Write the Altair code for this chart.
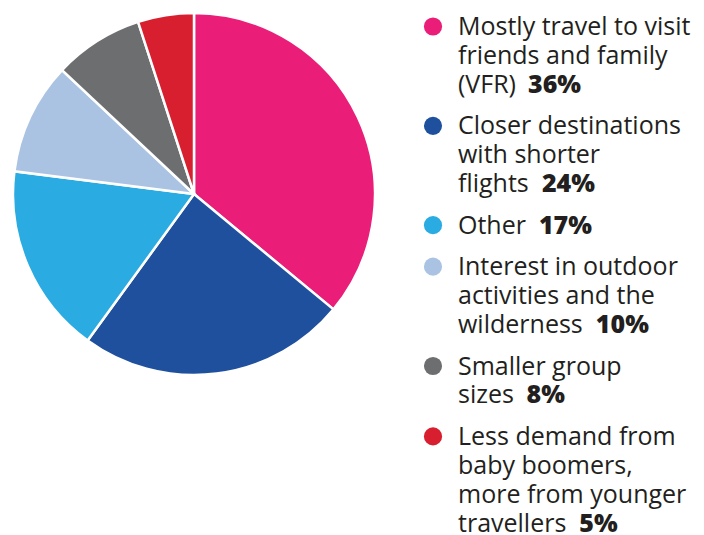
import altair as alt
import pandas as pd

# ---- data ----
categories = [
    "Mostly travel to visit friends and family (VFR)",
    "Closer destinations with shorter flights",
    "Other",
    "Interest in outdoor activities and the wilderness",
    "Smaller group sizes",
    "Less demand from baby boomers, more from younger travellers",
]
label_lines = [
    ["Mostly travel to visit", "friends and family", "(VFR)"],
    ["Closer destinations", "with shorter", "flights"],
    ["Other"],
    ["Interest in outdoor", "activities and the", "wilderness"],
    ["Smaller group", "sizes"],
    ["Less demand from", "baby boomers,", "more from younger", "travellers"],
]
values = [36, 24, 17, 10, 8, 5]
colors = ["#EA1E78", "#1F509D", "#2AABE2", "#ABC3E3", "#6D6E70", "#D81F30"]

# ---- helpers (approx. Open Sans advance widths, units per em 2048) ----
ADV = {
    " ": 532, "(": 604, ")": 604, ",": 512, "V": 1178, "F": 1061, "R": 1227, "O": 1599,
    "a": 1139, "b": 1255, "c": 975, "d": 1255, "e": 1149, "f": 694, "g": 1122,
    "h": 1257, "i": 518, "j": 518, "k": 1075, "l": 518, "m": 1905, "n": 1257,
    "o": 1237, "p": 1255, "q": 1255, "r": 836, "s": 977, "t": 723, "u": 1257,
    "v": 1026, "w": 1593, "x": 1073, "y": 1028, "z": 936,
}
FONT_SIZE = 25


def text_width(s):
    return sum(ADV.get(ch, 1150) for ch in s) * FONT_SIZE / 2048.0


LINE = 28.9      # px between baselines
GAP = 0.437      # extra gap between items, in line units
TEXT_X = 78
DOT_X = 53
LEG_W = 316
LEG_H = 519
FIRST_BASE = 27.0

pie_df = pd.DataFrame({"category": categories, "value": values, "order": range(len(values))})

rows, dots = [], []
pos = 0.0
for i, (cat, lines, v) in enumerate(zip(categories, label_lines, values)):
    dots.append({"category": cat, "pos": pos, "x": DOT_X})
    for j, ln in enumerate(lines):
        rows.append({"text": ln, "pos": pos, "x": TEXT_X, "kind": "label"})
        if j == len(lines) - 1:
            rows.append({"text": f"{v}%", "pos": pos,
                         "x": TEXT_X + text_width(ln + "  "), "kind": "pct"})
        pos += 1
    pos += GAP
lines_df = pd.DataFrame(rows)
dots_df = pd.DataFrame(dots)

color_scale = alt.Scale(domain=categories, range=colors)
y_dom = [-FIRST_BASE / LINE, (LEG_H - FIRST_BASE) / LINE]
y_scale = alt.Scale(domain=y_dom, reverse=True, nice=False, zero=False)
x_scale = alt.Scale(domain=[0, LEG_W], nice=False, zero=False)

pie = (
    alt.Chart(pie_df)
    .mark_arc(outerRadius=181, stroke="white", strokeWidth=2.5)
    .encode(
        theta=alt.Theta("value:Q", stack=True),
        order=alt.Order("order:Q"),
        color=alt.Color("category:N", scale=color_scale, legend=None),
    )
    .properties(width=372, height=372)
)

dot_layer = (
    alt.Chart(dots_df)
    .mark_circle(size=330, opacity=1, yOffset=-8.5)
    .encode(
        x=alt.X("x:Q", scale=x_scale, axis=None),
        y=alt.Y("pos:Q", scale=y_scale, axis=None),
        color=alt.Color("category:N", scale=color_scale, legend=None),
    )
)

label_layer = (
    alt.Chart(lines_df)
    .transform_filter(alt.datum.kind == "label")
    .mark_text(align="left", baseline="alphabetic", font="Open Sans",
               fontSize=FONT_SIZE, color="#231F20")
    .encode(
        x=alt.X("x:Q", scale=x_scale, axis=None),
        y=alt.Y("pos:Q", scale=y_scale, axis=None),
        text="text:N",
    )
)

pct_layer = (
    alt.Chart(lines_df)
    .transform_filter(alt.datum.kind == "pct")
    .mark_text(align="left", baseline="alphabetic", font="Open Sans",
               fontSize=FONT_SIZE, fontWeight=800, color="#231F20")
    .encode(
        x=alt.X("x:Q", scale=x_scale, axis=None),
        y=alt.Y("pos:Q", scale=y_scale, axis=None),
        text="text:N",
    )
)

legend = alt.layer(dot_layer, label_layer, pct_layer).properties(width=LEG_W, height=LEG_H)

chart = (
    alt.hconcat(pie, legend, spacing=0)
    .properties(padding=0, background="white")
    .configure_view(stroke=None)
)

chart.save("out.html", embed_options={"renderer": "svg", "actions": False})
